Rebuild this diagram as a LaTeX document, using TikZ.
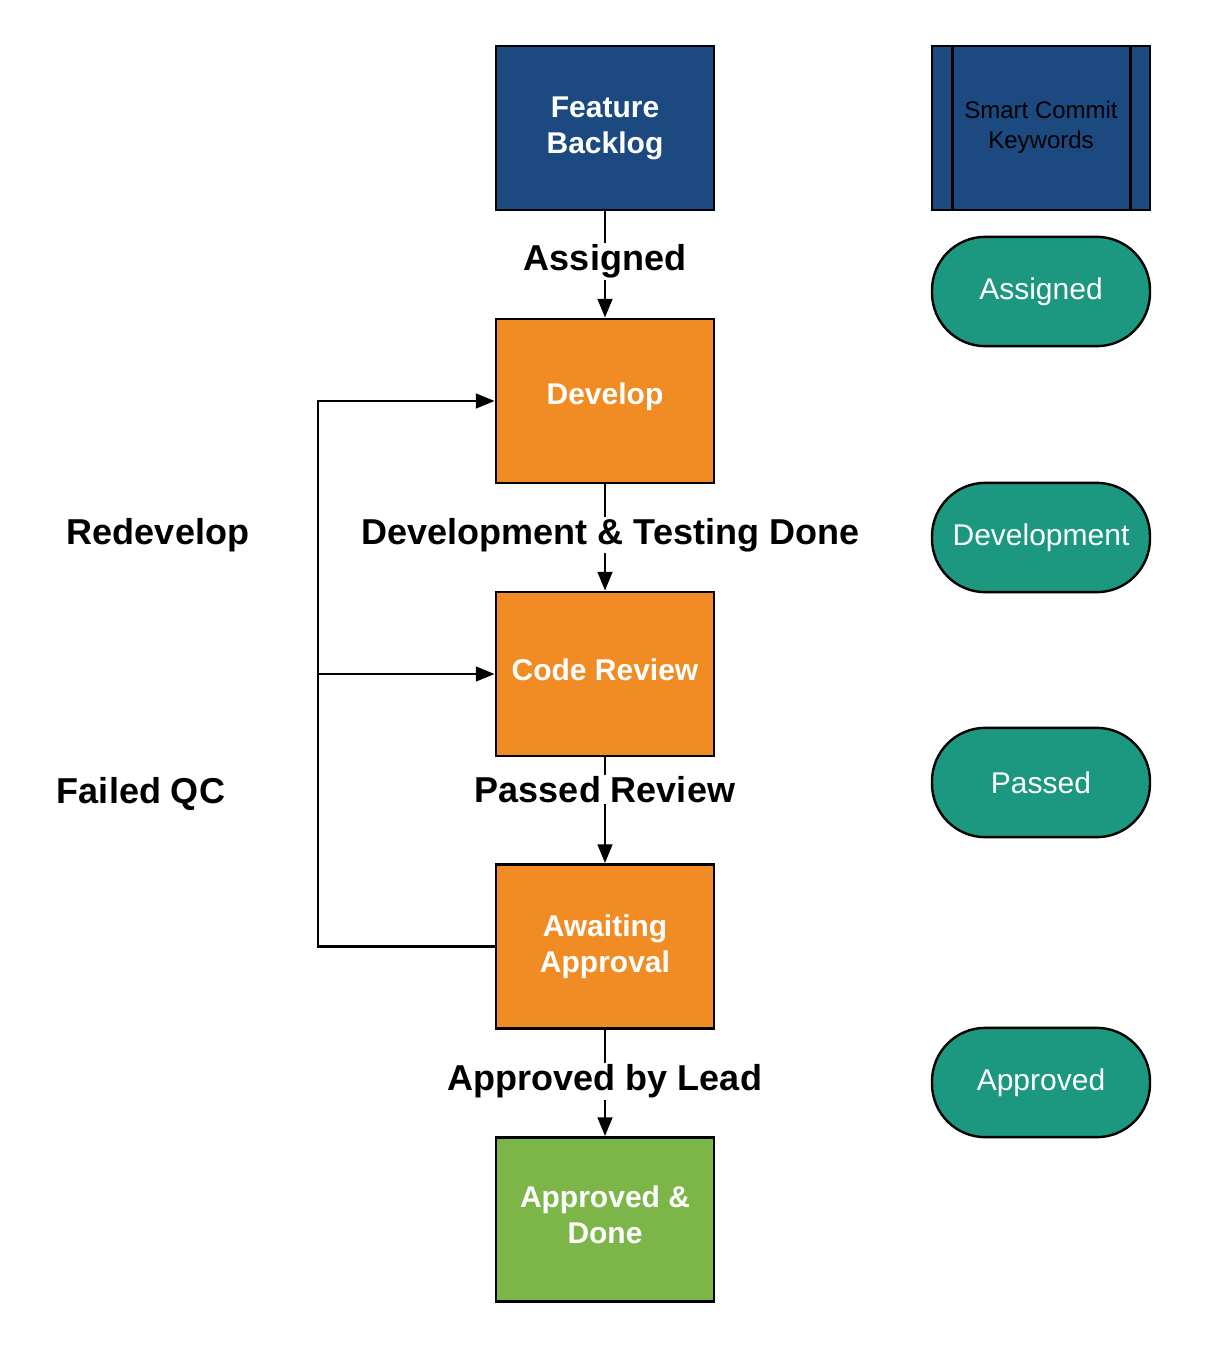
\documentclass[tikz,border=0pt]{standalone}
\usepackage{fontspec}
\setmainfont{Liberation Sans}
\usetikzlibrary{arrows.meta}
\definecolor{fbblue}{RGB}{28,73,127}
\definecolor{devorange}{RGB}{240,140,35}
\definecolor{donegreen}{RGB}{125,182,72}
\definecolor{pillteal}{RGB}{27,152,127}
\tikzset{
  px/.style={x=0.75pt,y=-0.75pt},
  stepbox/.style={draw=black, line width=2.2pt, minimum width=163.5pt, minimum height=123pt, inner sep=0pt,
    text=white, align=center, font=\bfseries\fontsize{22.5}{27}\selectfont},
  pill/.style={draw=black, line width=1.8pt, fill=pillteal, rounded corners=40pt, minimum width=163.5pt,
    minimum height=82pt, inner sep=0pt, text=white, font=\fontsize{22.5}{27}\selectfont},
  conn/.style={line width=1.8pt, -{Triangle[length=14pt,width=11pt]}},
  elabel/.style={fill=white, inner sep=1pt, font=\bfseries\fontsize{27}{32}\selectfont, text=black},
  sidelabel/.style={inner sep=0pt, font=\bfseries\fontsize{27}{32}\selectfont, text=black}
}
\begin{document}
\begin{tikzpicture}[px]
\useasboundingbox (0,0) rectangle (1208,1352);
% main column
\node[stepbox, fill=fbblue] (fb) at (605,128) {Feature\\Backlog};
\node[stepbox, fill=devorange] (dev) at (605,401) {};
\node[stepbox, fill=devorange] (cr) at (605,674) {};
\node[stepbox, fill=devorange] (aa) at (605,946.5) {Awaiting\\Approval};
\node[stepbox, fill=donegreen] (done) at (605,1219.5) {};
\node[text=white, font=\bfseries\fontsize{22.5}{27}\selectfont] (devt) at (605,397) {Develop};
\node[text=white, font=\bfseries\fontsize{22.5}{27}\selectfont] (crt) at (605,670) {Code Review};
\node[text=white, align=center, font=\bfseries\fontsize{22.5}{27}\selectfont] (donet) at (605,1215) {Approved \&\\Done};
% right column
\node[draw=black, line width=2.2pt, fill=fbblue, minimum width=163.5pt, minimum height=123pt, inner sep=0pt] (sc) at (1041,128) {};
\node[align=center, text=black, font=\fontsize{18}{22.5}\selectfont] (sct) at (1041,127) {Smart Commit\\Keywords};
\draw[line width=2.2pt] (sc.north west) ++(22,0) coordinate (sca) -- (sca |- sc.south);
\draw[line width=2.2pt] (sc.north east) ++(-21,0) coordinate (scb) -- (scb |- sc.south);
\node[pill] (p1) at (1041,291.5) {Assigned};
\node[pill] (p2) at (1041,537.5) {Development};
\node[pill] (p3) at (1041,782.5) {Passed};
\node[pill] (p4) at (1041,1082.5) {Approved};
% connectors
\draw[conn] (fb) -- node[elabel, pos=0.47] {Assigned} (dev);
\draw[conn] (dev) -- node[elabel, pos=0.475, xshift=4pt] {Development \& Testing Done} (cr);
\draw[conn] (cr) -- node[elabel, pos=0.30] {Passed Review} (aa);
\draw[conn] (aa) -- node[elabel, pos=0.485] {Approved by Lead} (done);
% loop back
\coordinate (lb) at (318,946.5);
\coordinate (lm) at (318,674);
\coordinate (lt) at (318,401);
\draw[conn] (aa.west) -- (lb) -- (lt) -- (dev.west);
\draw[conn] (lm) -- (cr.west);
\node[sidelabel] (redev) at (158,535) {Redevelop};
\node[sidelabel] (fqc) at (141,794) {Failed QC};
\end{tikzpicture}
\end{document}
